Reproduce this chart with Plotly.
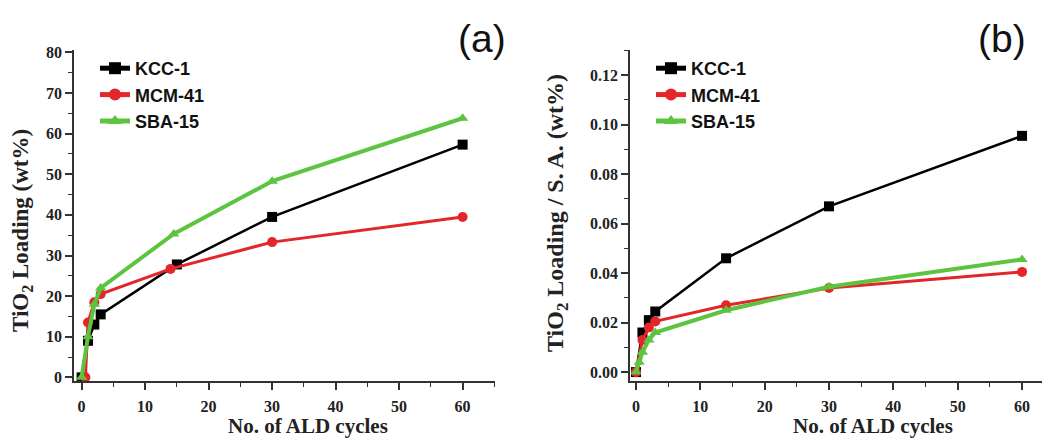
import plotly.graph_objects as go

# ---- data: panel (a) TiO2 loading (wt%) ----
kcc_a_x = [0, 1, 2, 3, 15, 30, 60]
kcc_a_y = [0, 9, 13, 15.5, 27.8, 39.5, 57.3]
mcm_a_x = [0.6, 1, 2, 3, 14, 30, 60]
mcm_a_y = [0, 13.5, 18.5, 20.5, 26.7, 33.3, 39.5]
sba_a_x = [0, 1, 2, 3, 14.5, 30, 60]
sba_a_y = [0, 10, 18, 22, 35.3, 48.3, 63.8]

# ---- data: panel (b) TiO2 loading / S.A. (wt%) ----
kcc_b_x = [0, 1, 2, 3, 14, 30, 60]
kcc_b_y = [0, 0.016, 0.021, 0.0245, 0.046, 0.067, 0.0955]
mcm_b_x = [0, 1, 2, 3, 14, 30, 60]
mcm_b_y = [0, 0.013, 0.018, 0.0205, 0.027, 0.034, 0.0405]
sba_b_x = [0, 0.5, 1, 2, 3, 14, 30, 60]
sba_b_y = [0, 0.004, 0.008, 0.013, 0.016, 0.025, 0.0345, 0.0455]

names = ["KCC-1", "MCM-41", "SBA-15"]
colors = ["#000000", "#e3262a", "#5cc43e"]
symbols = ["square", "circle", "triangle-up"]
widths = [2.5, 3, 4]

W, H = 1042, 440
def px(v):
    return v / W
def py(v):
    return 1 - v / H

fig = go.Figure()

series_a = [(kcc_a_x, kcc_a_y), (mcm_a_x, mcm_a_y), (sba_a_x, sba_a_y)]
series_b = [(kcc_b_x, kcc_b_y), (mcm_b_x, mcm_b_y), (sba_b_x, sba_b_y)]

for i, (xs, ys) in enumerate(series_a):
    fig.add_trace(go.Scatter(
        x=xs, y=ys, mode="lines+markers", name=names[i],
        line=dict(color=colors[i], width=widths[i]),
        marker=dict(symbol=symbols[i], size=10, color=colors[i]),
        xaxis="x", yaxis="y", legend="legend"))
for i, (xs, ys) in enumerate(series_b):
    fig.add_trace(go.Scatter(
        x=xs, y=ys, mode="lines+markers", name=names[i],
        line=dict(color=colors[i], width=widths[i]),
        marker=dict(symbol=symbols[i], size=10, color=colors[i]),
        xaxis="x2", yaxis="y2", legend="legend2"))

tickfont = dict(family="Liberation Serif, serif", size=16, color="#222222", weight="bold")
axis_common = dict(
    showline=True, linecolor="#333333", linewidth=1.5,
    ticks="outside", ticklen=7, tickwidth=1.5, tickcolor="#333333",
    showgrid=False, zeroline=False, tickfont=tickfont, automargin=False,
    minor=dict(ticks="outside", ticklen=4, tickwidth=1.2, tickcolor="#333333"),
)

legfont = dict(family="Liberation Sans, Arial, sans-serif", size=18, color="#111111", weight="bold")

ydom = [py(381), py(50)]
fig.update_layout(
    width=W, height=H,
    margin=dict(l=0, r=0, t=0, b=0, pad=0),
    paper_bgcolor="white", plot_bgcolor="white",
    showlegend=True,
    xaxis=dict(domain=[px(74), px(495)], range=[-1.2, 65.1], dtick=10, tick0=0,
               anchor="y", minor_dtick=5, ticklabelstandoff=3, **axis_common),
    yaxis=dict(domain=ydom, range=[-0.9, 80.6], dtick=10, tick0=0,
               anchor="x", minor_dtick=5, **axis_common),
    xaxis2=dict(domain=[px(630), 1.0], range=[-0.93, 63.1], dtick=10, tick0=0,
                anchor="y2", minor_dtick=5, ticklabelstandoff=3, **axis_common),
    yaxis2=dict(domain=ydom, range=[-0.0036, 0.1302], dtick=0.02, tick0=0,
                anchor="x2", minor_dtick=0.01, tickformat=".2f", **axis_common),
    legend=dict(x=px(95), y=py(50), xanchor="left", yanchor="top",
                font=legfont, bgcolor="rgba(0,0,0,0)", itemsizing="constant",
                tracegroupgap=0),
    legend2=dict(x=px(651), y=py(50), xanchor="left", yanchor="top",
                 font=legfont, bgcolor="rgba(0,0,0,0)", itemsizing="constant",
                 tracegroupgap=0),
)

title_font = dict(family="Liberation Serif, serif", size=21, color="#222222")
ann = dict(xref="paper", yref="paper", showarrow=False, xanchor="center", yanchor="middle")
fig.add_annotation(text="<b>No. of ALD cycles</b>", x=px(308), y=py(426), font=title_font, **ann)
fig.add_annotation(text="<b>No. of ALD cycles</b>", x=px(873), y=py(426), font=title_font, **ann)
fig.add_annotation(text="<b>TiO<sub>2</sub> Loading (wt%)</b>", x=px(22), y=py(231), textangle=-90,
                   font=dict(family="Liberation Serif, serif", size=23, color="#222222"), **ann)
fig.add_annotation(text="<b>TiO<sub>2</sub> Loading / S. A. (wt%)</b>", x=px(557), y=py(213), textangle=-90,
                   font=dict(family="Liberation Serif, serif", size=24, color="#222222"), **ann)
fig.add_annotation(text="(a)", x=px(482), y=py(38),
                   font=dict(family="Liberation Sans, sans-serif", size=39, color="#111111"), **ann)
fig.add_annotation(text="(b)", x=px(1002), y=py(38),
                   font=dict(family="Liberation Sans, sans-serif", size=39, color="#111111"), **ann)

fig.write_html("out.html", config={"displayModeBar": False},
               post_script="document.body.style.margin='0px';")
